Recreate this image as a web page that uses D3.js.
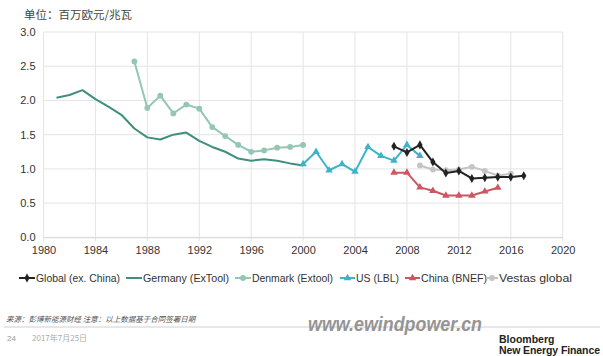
<!DOCTYPE html>
<html><head><meta charset="utf-8">
<script src="https://cdn.jsdelivr.net/npm/d3@7"></script>
<style>body{margin:0;background:#fff}svg{display:block}</style>
</head><body>
<script>
const yTicks = [0, 0.5, 1.0, 1.5, 2.0, 2.5, 3.0];
const xTicks = [1980, 1984, 1988, 1992, 1996, 2000, 2004, 2008, 2012, 2016, 2020];

const globalYears = [2007,2008,2009,2010,2011,2012,2013,2014,2015,2016,2017];
const globalVals  = [1.33,1.24,1.35,1.10,0.94,0.97,0.86,0.87,0.88,0.88,0.90];

const germanyYears = [1981,1982,1983,1984,1985,1986,1987,1988,1989,1990,1991,1992,1993,1994,1995,1996,1997,1998,1999,2000];
const germanyVals  = [2.04,2.08,2.15,2.02,1.91,1.79,1.59,1.46,1.43,1.50,1.53,1.41,1.32,1.25,1.15,1.12,1.14,1.12,1.08,1.05];

const denmarkYears = [1987,1988,1989,1990,1991,1992,1993,1994,1995,1996,1997,1998,1999,2000];
const denmarkVals  = [2.57,1.89,2.07,1.81,1.94,1.88,1.61,1.48,1.35,1.25,1.27,1.31,1.32,1.35];

const usYears = [2000,2001,2002,2003,2004,2005,2006,2007,2008,2009];
const usVals  = [1.07,1.25,0.98,1.07,0.96,1.32,1.19,1.12,1.35,1.19];

const chinaYears = [2007,2008,2009,2010,2011,2012,2013,2014,2015];
const chinaVals  = [0.945,0.945,0.73,0.68,0.61,0.61,0.61,0.67,0.725];

const vestasYears = [2009,2010,2011,2012,2013,2014,2015,2016];
const vestasVals  = [1.05,0.99,0.98,0.99,1.03,0.97,0.90,0.93];

const seriesNames = ["Global (ex. China)", "Germany (ExTool)", "Denmark (Extool)", "US (LBL)", "China (BNEF)", "Vestas global"];

const W = 603, H = 356;
const svg = d3.select("body").append("svg").attr("width", W).attr("height", H);
const font = "'Liberation Sans', Arial, sans-serif";

const x = d3.scaleLinear().domain([1980, 2020]).range([43.5, 562.7]);
const y = d3.scaleLinear().domain([0, 3]).range([237.3, 32]);

// title
svg.append("text").attr("x", 24).attr("y", 19)
  .attr("font-family", "'Noto Sans CJK SC', sans-serif").attr("font-size", 11.5)
  .attr("fill", "#444").text("单位：百万欧元/兆瓦");

// grid
const g = svg.append("g");
g.selectAll(".hg").data(yTicks).join("line")
  .attr("x1", x(1980)).attr("x2", x(2020))
  .attr("y1", d => y(d)).attr("y2", d => y(d))
  .attr("stroke", "#e4e4e4").attr("stroke-width", 1);
g.selectAll(".vg").data(xTicks).join("line")
  .attr("x1", d => x(d)).attr("x2", d => x(d))
  .attr("y1", y(3)).attr("y2", y(0) + 4)
  .attr("stroke", "#e4e4e4").attr("stroke-width", 1);

// axes
const xAxis = d3.axisBottom(x).tickValues(xTicks).tickFormat(d3.format("d")).tickSize(0).tickPadding(9);
const yAxis = d3.axisLeft(y).tickValues(yTicks).tickFormat(d3.format(".1f")).tickSize(0).tickPadding(8);
const xa = svg.append("g").attr("transform", `translate(0,${y(0)})`).call(xAxis);
const ya = svg.append("g").attr("transform", `translate(${x(1980)},0)`).call(yAxis);
[xa, ya].forEach(a => {
  a.select(".domain").attr("stroke", "#d8d8d8");
  a.selectAll("text").attr("font-family", font).attr("font-size", 11).attr("fill", "#333");
});
ya.select(".domain").remove();

const line = d3.line().x(d => x(d[0])).y(d => y(d[1]));
const zip = (a, b) => a.map((v, i) => [v, b[i]]);

const series = [
  {years: germanyYears, vals: germanyVals, color: "#3f8f7c", marker: "none"},
  {years: denmarkYears, vals: denmarkVals, color: "#93c6b3", marker: "circle"},
  {years: usYears, vals: usVals, color: "#3db3c9", marker: "triangle"},
  {years: vestasYears, vals: vestasVals, color: "#c4c4c4", marker: "circle"},
  {years: chinaYears, vals: chinaVals, color: "#cc5661", marker: "triangle"},
  {years: globalYears, vals: globalVals, color: "#222222", marker: "diamond"},
];

const sym = {
  circle: d3.symbol().type(d3.symbolCircle).size(26),
  triangle: d3.symbol().type(d3.symbolTriangle).size(24),
  diamond: d3.symbol().type(d3.symbolDiamond).size(24)
};

series.forEach(s => {
  const pts = zip(s.years, s.vals);
  svg.append("path").datum(pts).attr("d", line)
    .attr("fill", "none").attr("stroke", s.color).attr("stroke-width", 2)
    .attr("stroke-linejoin", "round");
  if (s.marker !== "none") {
    svg.selectAll(null).data(pts).join("path")
      .attr("d", sym[s.marker])
      .attr("transform", d => `translate(${x(d[0])},${y(d[1])})`)
      .attr("fill", s.color);
  }
});

// legend
const legendItems = [
  {name: seriesNames[0], color: "#222222", marker: "diamond", x: 19, w: 16, len: 84},
  {name: seriesNames[1], color: "#3f8f7c", marker: "none", x: 126, w: 16, len: 86},
  {name: seriesNames[2], color: "#93c6b3", marker: "circle", x: 235, w: 16, len: 81},
  {name: seriesNames[3], color: "#3db3c9", marker: "triangle", x: 340, w: 15, len: 43},
  {name: seriesNames[4], color: "#cc5661", marker: "triangle", x: 405, w: 15, len: 66},
  {name: seriesNames[5], color: "#c4c4c4", marker: "circle", x: 486, w: 12, len: 73},
];
const ly = 278;
legendItems.forEach(it => {
  svg.append("line").attr("x1", it.x).attr("x2", it.x + it.w).attr("y1", ly).attr("y2", ly)
    .attr("stroke", it.color).attr("stroke-width", 2);
  if (it.marker !== "none") {
    svg.append("path").attr("d", sym[it.marker]).attr("transform", `translate(${it.x + it.w/2},${ly})`).attr("fill", it.color);
  }
  svg.append("text").attr("x", it.x + it.w + 1).attr("y", ly + 4)
    .attr("font-family", font).attr("font-size", 11).attr("fill", "#333")
    .attr("textLength", it.len).attr("lengthAdjust", "spacingAndGlyphs").text(it.name);
});

// footer
svg.append("text").attr("x", 6).attr("y", 322)
  .attr("font-family", "'Noto Sans CJK SC', sans-serif").attr("font-size", 7.5).attr("font-style", "italic")
  .attr("fill", "#555").text("来源：彭博新能源财经 注意：以上数据基于合同签署日期");
svg.append("line").attr("x1", 4).attr("x2", 600).attr("y1", 327).attr("y2", 327).attr("stroke", "#cfcfcf").attr("stroke-width", 1);
svg.append("text").attr("x", 7).attr("y", 341).attr("font-family", font).attr("font-size", 8).attr("fill", "#999").text("24");
svg.append("text").attr("x", 32).attr("y", 341).attr("font-family", "'Noto Sans CJK SC', sans-serif").attr("font-size", 8).attr("fill", "#aaa").text("2017年7月25日");

// watermark
svg.append("text").attr("x", 308).attr("y", 331)
  .attr("font-family", font).attr("font-size", 20).attr("font-weight", "bold").attr("font-style", "italic")
  .attr("fill", "#8a8a8a").attr("opacity", 0.9).attr("textLength", 174).attr("lengthAdjust", "spacingAndGlyphs").text("www.ewindpower.cn");

svg.append("text").attr("x", 499).attr("y", 342.5).attr("font-family", font).attr("font-size", 10.5).attr("font-weight", "bold").attr("fill", "#222").text("Bloomberg");
svg.append("text").attr("x", 499).attr("y", 353.5).attr("font-family", font).attr("font-size", 10.5).attr("font-weight", "bold").attr("fill", "#222").attr("textLength", 101).text("New Energy Finance");
</script>
</body></html>
